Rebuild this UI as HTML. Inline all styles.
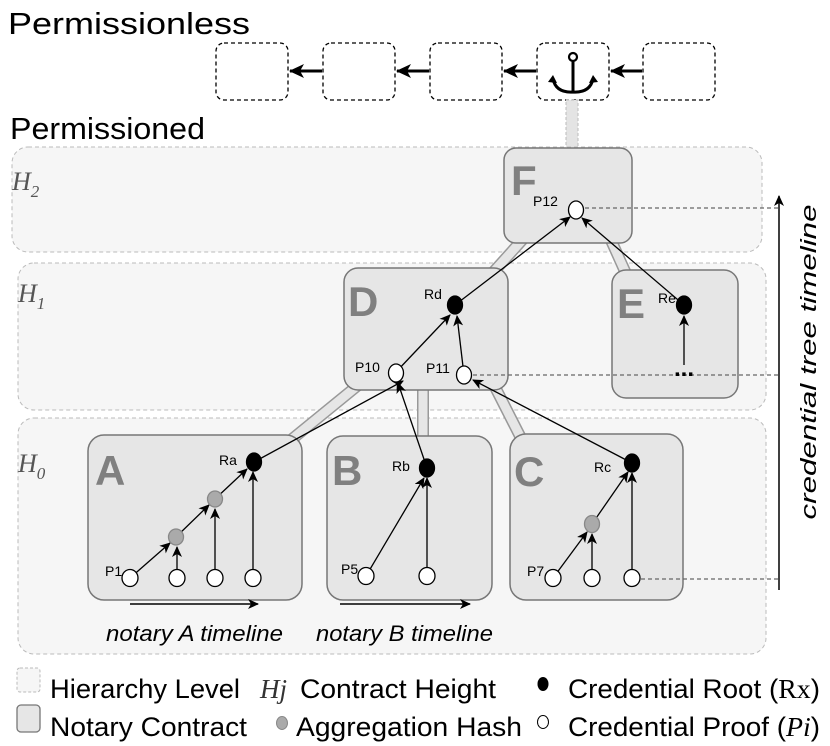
<!DOCTYPE html>
<html><head><meta charset="utf-8"><style>
html,body{margin:0;padding:0;background:#fff;}
svg{display:block;font-family:"Liberation Sans",Arial,sans-serif;}
</style></head><body>
<svg width="830" height="746" viewBox="0 0 830 746" xmlns="http://www.w3.org/2000/svg">
<defs>
<marker id="ah" markerWidth="12" markerHeight="10" refX="10" refY="5" orient="auto" markerUnits="userSpaceOnUse">
<path d="M0,0 L11,5 L0,10 L3,5 Z" fill="#000"/>
</marker>
<marker id="ahb" markerWidth="16" markerHeight="14" refX="14" refY="7" orient="auto" markerUnits="userSpaceOnUse">
<path d="M0,0 L15,7 L0,14 L4,7 Z" fill="#000"/>
</marker>
</defs>
<text x="8" y="34" font-size="31" textLength="242" lengthAdjust="spacingAndGlyphs">Permissionless</text>
<text x="10" y="139" font-size="31" textLength="195" lengthAdjust="spacingAndGlyphs">Permissioned</text>

<!-- chain -->
<g fill="#fff" stroke="#000" stroke-width="1.3" stroke-dasharray="4,3">
<rect x="216" y="43" width="72" height="57" rx="8"/>
<rect x="323" y="43" width="72" height="57" rx="8"/>
<rect x="430" y="43" width="72" height="57" rx="8"/>
<rect x="537" y="43" width="72" height="57" rx="8"/>
<rect x="643" y="43" width="72" height="57" rx="8"/>
</g>
<g stroke="#000" stroke-width="3" marker-end="url(#ahb)">
<line x1="322" y1="71" x2="290" y2="71"/>
<line x1="429" y1="71" x2="397" y2="71"/>
<line x1="536" y1="71" x2="504" y2="71"/>
<line x1="642" y1="71" x2="611" y2="71"/>
</g>
<!-- anchor -->
<g stroke="#000" stroke-width="3" fill="none">
<circle cx="573" cy="57" r="4" stroke-width="2.2"/>
<line x1="573" y1="61" x2="573" y2="92"/>
<path d="M553,79 Q556,93 573,92 Q590,93 593,79"/>
</g>
<path d="M548,82 L553,75 L557,83 Z M598,82 L593,75 L589,83 Z" fill="#000"/>
<rect x="566" y="100" width="12" height="48" fill="#e4e4e4" stroke="#bbb" stroke-dasharray="3,2"/>

<!-- bands -->
<g fill="#f6f6f6" stroke="#bbb" stroke-dasharray="4,3" stroke-width="1">
<rect x="12" y="147" width="750" height="105" rx="16"/>
<rect x="18" y="263" width="748" height="147" rx="16"/>
<rect x="18" y="418" width="748" height="236" rx="16"/>
</g>
<g font-family="Liberation Serif,serif" font-style="italic" font-size="26" fill="#555">
<text x="12" y="190">H<tspan font-size="17" dy="7">2</tspan></text>
<text x="18" y="302">H<tspan font-size="17" dy="7">1</tspan></text>
<text x="18" y="472">H<tspan font-size="17" dy="7">0</tspan></text>
</g>

<!-- gray connectors -->
<g stroke="#999" stroke-width="12" stroke-linecap="butt">
<line x1="524" y1="238" x2="488" y2="278"/>
<line x1="610" y1="238" x2="628" y2="278"/>
<line x1="362" y1="382" x2="286" y2="444"/>
<line x1="423" y1="385" x2="423" y2="440"/>
<line x1="494" y1="385" x2="522" y2="440"/>
</g>
<g stroke="#e6e6e6" stroke-width="9" stroke-linecap="butt">
<line x1="524" y1="238" x2="488" y2="278"/>
<line x1="610" y1="238" x2="628" y2="278"/>
<line x1="362" y1="382" x2="286" y2="444"/>
<line x1="423" y1="385" x2="423" y2="440"/>
<line x1="494" y1="385" x2="522" y2="440"/>
</g>

<!-- contract boxes -->
<g fill="#e6e6e6" stroke="#777" stroke-width="1.5">
<rect x="504" y="148" width="128" height="95" rx="12"/>
<rect x="344" y="268" width="164" height="122" rx="14"/>
<rect x="612" y="270" width="126" height="128" rx="14"/>
<rect x="88" y="435" width="214" height="165" rx="16"/>
<rect x="327" y="436" width="165" height="164" rx="16"/>
<rect x="510" y="434" width="173" height="166" rx="16"/>
</g>
<g font-weight="bold" font-size="42" fill="#808080">
<text x="511" y="195">F</text>
<text x="348" y="316">D</text>
<text x="617" y="318">E</text>
<text x="95" y="485">A</text>
<text x="332" y="485">B</text>
<text x="514" y="486">C</text>
</g>

<!-- dashed timeline lines -->
<g stroke="#666" stroke-width="1.3" stroke-dasharray="4,3">
<line x1="585" y1="208" x2="778" y2="208"/>
<line x1="473" y1="375" x2="778" y2="375"/>
<line x1="641" y1="579" x2="778" y2="579"/>
</g>
<line x1="779" y1="590" x2="779" y2="196" stroke="#000" stroke-width="1.5" marker-end="url(#ah)"/>
<text transform="translate(816,362) rotate(-90)" text-anchor="middle" font-size="22" font-style="italic" textLength="315" lengthAdjust="spacingAndGlyphs">credential tree timeline</text>

<!-- arrows -->
<g stroke="#000" stroke-width="1.3" marker-end="url(#ah)">
<line x1="455" y1="305" x2="570" y2="217"/>
<line x1="684" y1="305" x2="582" y2="218"/>
<line x1="684" y1="365" x2="684" y2="316"/>
<line x1="396" y1="372" x2="450" y2="315"/>
<line x1="464" y1="375" x2="457" y2="316"/>
<line x1="254" y1="462" x2="403" y2="381"/>
<line x1="427" y1="468" x2="398" y2="383"/>
<line x1="632" y1="463" x2="473" y2="380"/>
<line x1="130" y1="578" x2="170" y2="543"/>
<line x1="177" y1="569" x2="177" y2="547"/>
<line x1="176" y1="537" x2="209" y2="505"/>
<line x1="215" y1="569" x2="215" y2="509"/>
<line x1="215" y1="499" x2="247" y2="469"/>
<line x1="253" y1="569" x2="253" y2="472"/>
<line x1="366" y1="576" x2="424" y2="478"/>
<line x1="427" y1="567" x2="427" y2="478"/>
<line x1="553" y1="578" x2="587" y2="532"/>
<line x1="592" y1="569" x2="592" y2="534"/>
<line x1="592" y1="524" x2="628" y2="472"/>
<line x1="632" y1="569" x2="632" y2="473"/>
<line x1="130" y1="604" x2="258" y2="604" stroke-width="1.5"/>
<line x1="340" y1="604" x2="470" y2="604" stroke-width="1.5"/>
</g>

<!-- nodes -->
<g stroke="#000" stroke-width="1.3">
<g fill="#000">
<ellipse cx="455" cy="305" rx="7.5" ry="9"/>
<ellipse cx="684" cy="305" rx="7.5" ry="9"/>
<ellipse cx="254" cy="462" rx="7.5" ry="9"/>
<ellipse cx="427" cy="468" rx="7.5" ry="9"/>
<ellipse cx="632" cy="463" rx="7.5" ry="9"/>
</g>
<g fill="#aaa" stroke="#888">
<ellipse cx="176" cy="537" rx="7.5" ry="8"/>
<ellipse cx="215" cy="499" rx="7.5" ry="8"/>
<ellipse cx="592" cy="524" rx="7.5" ry="8.5"/>
</g>
<g fill="#fff">
<ellipse cx="576" cy="210" rx="7.5" ry="9"/>
<ellipse cx="396" cy="373" rx="7.5" ry="9"/>
<ellipse cx="464" cy="375" rx="7.5" ry="9"/>
<ellipse cx="130" cy="578" rx="8" ry="8.5"/>
<ellipse cx="177" cy="578" rx="8" ry="8.5"/>
<ellipse cx="215" cy="578" rx="8" ry="8.5"/>
<ellipse cx="253" cy="578" rx="8" ry="8.5"/>
<ellipse cx="366" cy="576" rx="8" ry="8.5"/>
<ellipse cx="427" cy="576" rx="8" ry="8.5"/>
<ellipse cx="553" cy="578" rx="8" ry="8.5"/>
<ellipse cx="592" cy="578" rx="8" ry="8.5"/>
<ellipse cx="632" cy="578" rx="8" ry="8.5"/>
</g>
</g>
<g font-size="14">
<text x="533" y="206">P12</text>
<text x="424" y="299">Rd</text>
<text x="658" y="303">Re</text>
<text x="355" y="372">P10</text>
<text x="426" y="373">P11</text>
<text x="219" y="465">Ra</text>
<text x="392" y="471">Rb</text>
<text x="594" y="472">Rc</text>
<text x="105" y="576">P1</text>
<text x="341" y="574">P5</text>
<text x="527" y="576">P7</text>
</g>
<text x="684" y="376" text-anchor="middle" font-size="24" font-weight="bold">...</text>
<g font-size="22" font-style="italic">
<text x="106" y="641" textLength="177" lengthAdjust="spacingAndGlyphs">notary A timeline</text>
<text x="316" y="641" textLength="177" lengthAdjust="spacingAndGlyphs">notary B timeline</text>
</g>

<!-- legend -->
<rect x="17" y="668" width="23" height="24" rx="3" fill="#f6f6f6" stroke="#bbb" stroke-dasharray="3,2"/>
<rect x="17" y="705" width="23" height="27" rx="4" fill="#e6e6e6" stroke="#777" stroke-width="1.3"/>
<g font-size="27">
<text x="50" y="698" textLength="190" lengthAdjust="spacingAndGlyphs">Hierarchy Level</text>
<text x="260" y="698" font-family="Liberation Serif,serif" font-style="italic" fill="#333">Hj</text>
<text x="300" y="698" textLength="196" lengthAdjust="spacingAndGlyphs">Contract Height</text>
<text x="568" y="698" textLength="252" lengthAdjust="spacingAndGlyphs">Credential Root (<tspan font-family="Liberation Serif,serif">Rx</tspan>)</text>
<text x="50" y="736" textLength="197" lengthAdjust="spacingAndGlyphs">Notary Contract</text>
<text x="296" y="736" textLength="226" lengthAdjust="spacingAndGlyphs">Aggregation Hash</text>
<text x="568" y="736" textLength="252" lengthAdjust="spacingAndGlyphs">Credential Proof (<tspan font-family="Liberation Serif,serif" font-style="italic">Pi</tspan>)</text>
</g>
<ellipse cx="543" cy="684" rx="5.5" ry="7" fill="#000"/>
<ellipse cx="282" cy="723" rx="5.5" ry="6.5" fill="#aaa" stroke="#888"/>
<ellipse cx="543" cy="722" rx="5.5" ry="6.5" fill="#fff" stroke="#000"/>
</svg>
</body></html>
